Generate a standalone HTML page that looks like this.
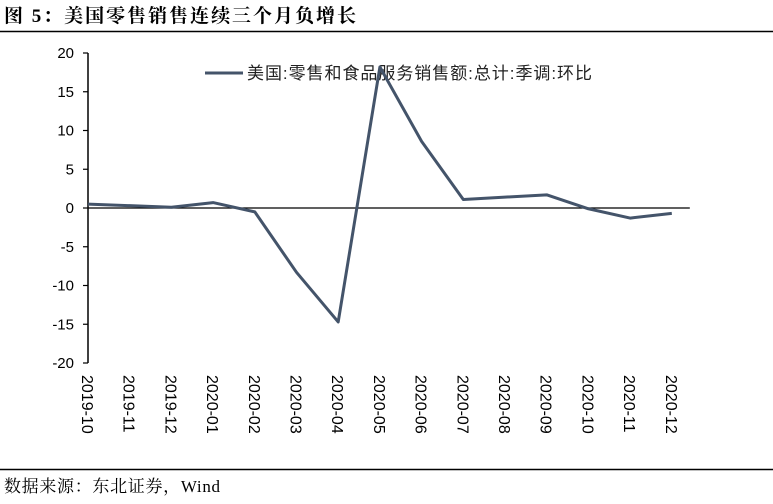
<!DOCTYPE html>
<html><head><meta charset="utf-8"><style>
body{margin:0;background:#fff;width:773px;height:499px;overflow:hidden;font-family:"Liberation Sans","Noto Sans CJK SC",sans-serif}
</style></head><body>
<svg width="773" height="499" xmlns="http://www.w3.org/2000/svg">
<text x="4" y="22" font-family="'Liberation Serif','Noto Serif CJK SC',serif" font-weight="bold" font-size="19" textLength="352" lengthAdjust="spacing">图 5：美国零售销售连续三个月负增长</text>
<line x1="0" y1="31.5" x2="773" y2="31.5" stroke="#000" stroke-width="1.5"/>
<line x1="0" y1="469.5" x2="773" y2="469.5" stroke="#000" stroke-width="1.5"/>
<text x="4" y="492" font-family="'Liberation Serif','Noto Serif CJK SC',serif" font-size="17" textLength="216" lengthAdjust="spacing">数据来源：东北证券，Wind</text>
<g>
<line x1="205" y1="73" x2="243" y2="73" stroke="#44546A" stroke-width="3"/>
<text x="247" y="79" font-size="17" fill="#222" textLength="345" lengthAdjust="spacing">美国:零售和食品服务销售额:总计:季调:环比</text>
</g>
<g id="axes"></g>
<g id="marks"></g>
</svg>
<script>
const categories=["2019-10","2019-11","2019-12","2020-01","2020-02","2020-03","2020-04","2020-05","2020-06","2020-07","2020-08","2020-09","2020-10","2020-11","2020-12"];
const values=[0.5,0.3,0.1,0.7,-0.5,-8.3,-14.7,18.2,8.6,1.1,1.4,1.7,-0.1,-1.3,-0.7];
const yTicks=[20,15,10,5,0,-5,-10,-15,-20];
const NS="http://www.w3.org/2000/svg";
const x0=88,step=41.7,yTop=53,yBot=363,yMax=20,yMin=-20;
function xs(i){return x0+i*step;}
function ys(v){return yTop+(yMax-v)/(yMax-yMin)*(yBot-yTop);}
const axes=document.getElementById('axes'),marks=document.getElementById('marks');
function mk(t,a,p){const e=document.createElementNS(NS,t);for(const k in a)e.setAttribute(k,a[k]);p.appendChild(e);return e;}
const ya=mk('line',{x1:x0,y1:yTop,x2:x0,y2:yBot,stroke:'#000','stroke-width':1.5},axes);


const xa=mk('line',{x1:x0,y1:ys(0),x2:xs(categories.length-1)+18,y2:ys(0),stroke:'#000','stroke-width':1.2},axes);


yTicks.forEach(v=>{
 mk('line',{x1:x0-5,y1:ys(v),x2:x0,y2:ys(v),stroke:'#000','stroke-width':1.2},axes);
 const t=mk('text',{x:x0-14,y:ys(v)+5,'text-anchor':'end','font-size':15},axes);
 t.textContent=v;
 
 
});
categories.forEach((c,i)=>{
 const t=mk('text',{x:0,y:0,'font-size':16,transform:`translate(${xs(i)-6},375) rotate(90)`},axes);
 t.textContent=c;
 
 
});
const pl=mk('polyline',{points:values.map((v,i)=>xs(i)+','+ys(v)).join(' '),fill:'none',stroke:'#44546A','stroke-width':3,'stroke-linejoin':'round'},marks);


</script>
</body></html>
